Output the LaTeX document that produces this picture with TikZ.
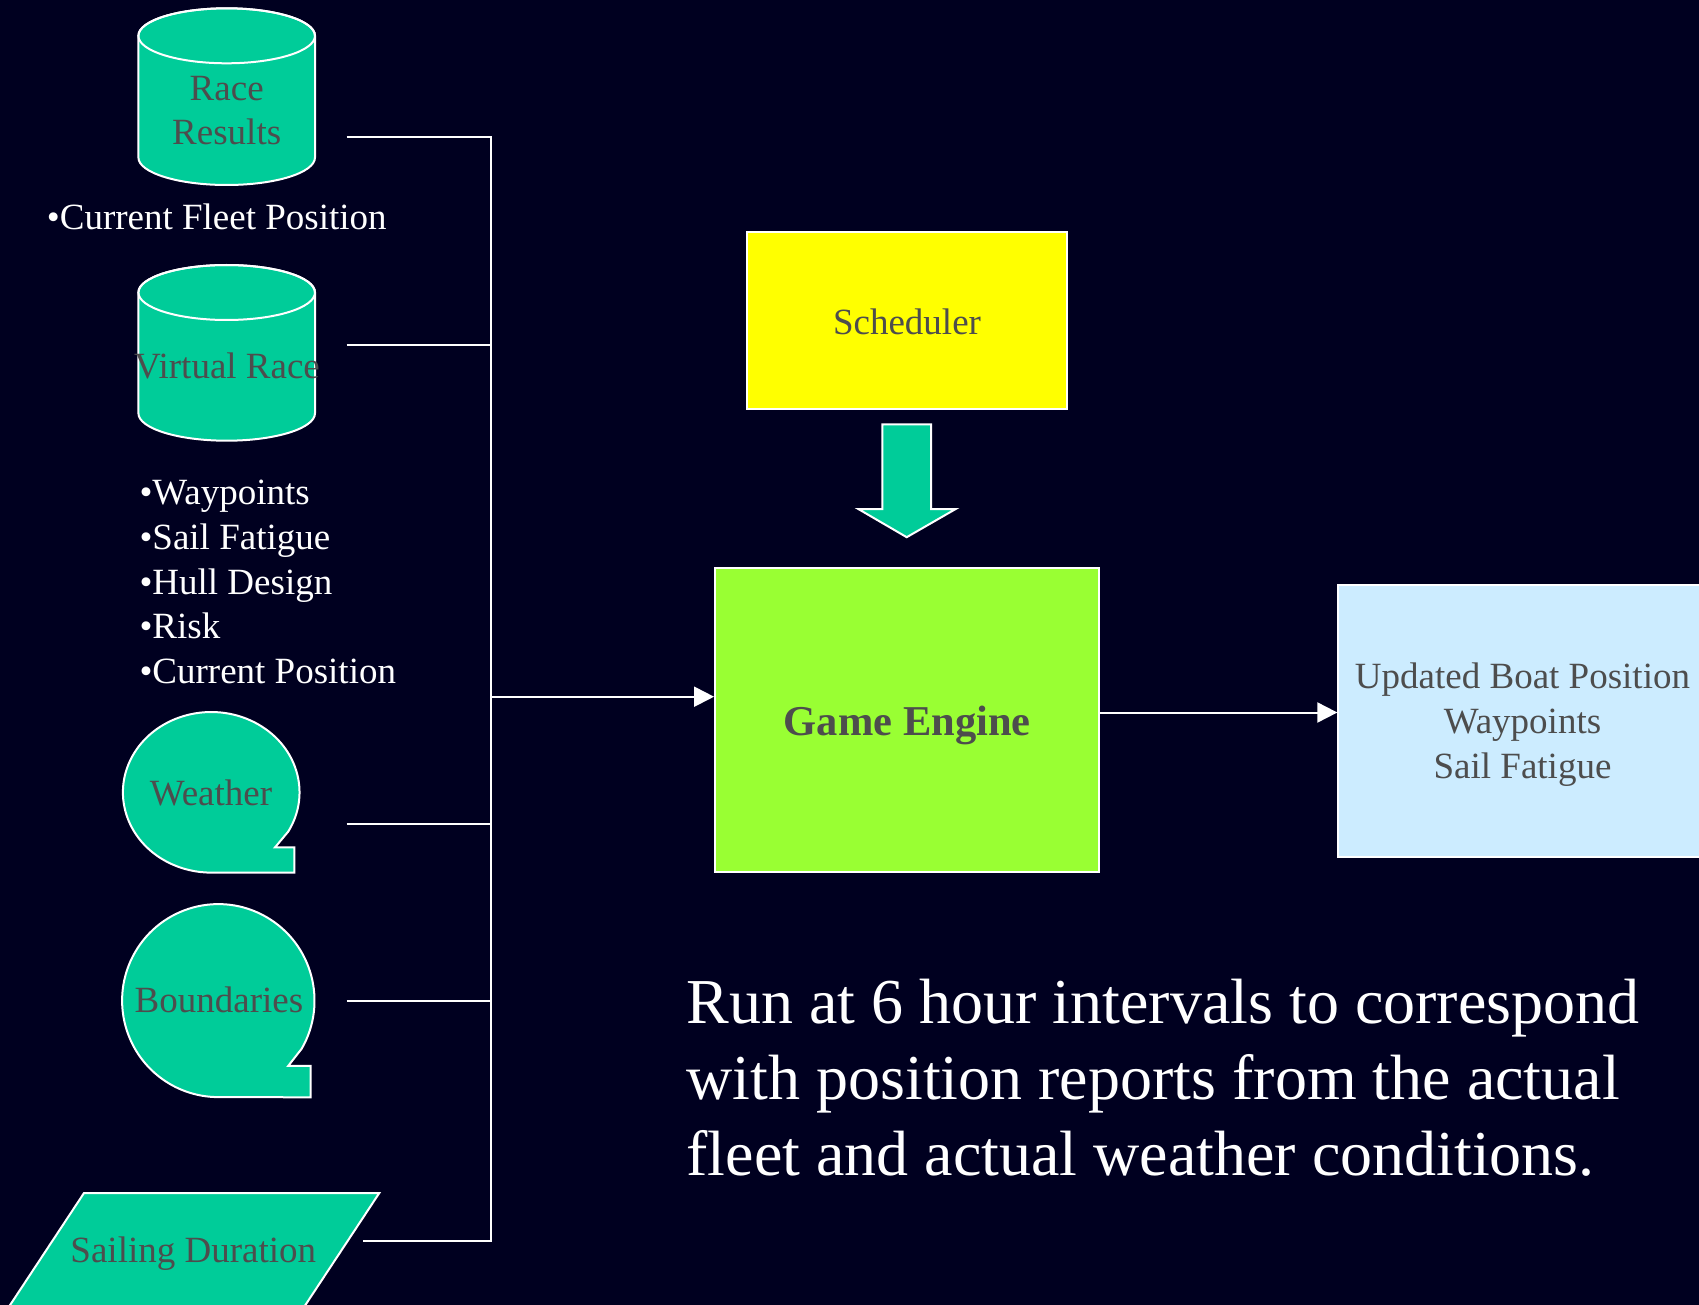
\documentclass[tikz,border=0pt]{standalone}
\usepackage{fontspec}
\setmainfont{Liberation Serif}
\usetikzlibrary{arrows.meta}
\definecolor{bgc}{RGB}{0,0,32}
\definecolor{tealc}{RGB}{0,204,153}
\definecolor{limec}{RGB}{153,255,51}
\definecolor{yelc}{RGB}{255,255,0}
\definecolor{skyc}{RGB}{204,236,255}
\definecolor{txtc}{RGB}{77,77,77}
\begin{document}
\begin{tikzpicture}[x=1pt,y=-1pt,
  shapeline/.style={draw=white,line width=2pt,fill=tealc},
  conn/.style={draw=white,line width=2pt},
  arr/.style={conn,-{Triangle[length=20pt,width=20pt]}},
  lbl/.style={text=txtc,font=\fontsize{37}{44.6}\selectfont,inner sep=0pt},
  wlbl/.style={text=white,font=\fontsize{37}{44.6}\selectfont,inner sep=0pt},
  boxnode/.style={draw=white,line width=2pt,rectangle,inner sep=0pt,text=txtc,font=\fontsize{37}{44.6}\selectfont}]
\useasboundingbox (0,0) rectangle (1699,1305);
\fill[bgc] (0,0) rectangle (1699,1305);
\begin{scope}
\clip (0,0) rectangle (1699,1305);

% Race Results cylinder
\path[shapeline] (138.4,35.8) -- (138.4,157.5)
  arc[start angle=180,end angle=0,x radius=88.3,y radius=27.5]
  -- (315,35.8)
  arc[start angle=0,end angle=-180,x radius=88.3,y radius=27.5] -- cycle;
\draw[conn] (226.7,35.8) ellipse[x radius=88.3,y radius=27.5];
\node[lbl,anchor=base,align=center] (rrtxt) at (226.7,145) {Race\\Results};

% Virtual Race cylinder
\path[shapeline] (138.4,292.5) -- (138.4,413.2)
  arc[start angle=180,end angle=0,x radius=88.3,y radius=27.5]
  -- (315,292.5)
  arc[start angle=0,end angle=-180,x radius=88.3,y radius=27.5] -- cycle;
\draw[conn] (226.7,292.5) ellipse[x radius=88.3,y radius=27.5];
\node[lbl,anchor=base] (vrtxt) at (227,378) {Virtual Race};

% bullet texts
\node[wlbl,anchor=base west] (cfp) at (46.7,230) {•Current Fleet Position};
\node[wlbl,anchor=base west,align=left] (blist) at (139.3,683.3)
  {•Waypoints\\•Sail Fatigue\\•Hull Design\\•Risk\\•Current Position};

% Weather tape shape
\path[shapeline] (288.3,831.5)
  arc[start angle=29.2,end angle=-270,x radius=88.3,y radius=80.3]
  -- (294.3,872.5) -- (294.3,847.4) -- (275,847.4) -- cycle;
\node[lbl,anchor=base] (wtxt) at (211,805.5) {Weather};

% Boundaries tape shape
\path[shapeline] (301.7,1048.7)
  arc[start angle=29.9,end angle=-270,x radius=96.2,y radius=96.5]
  -- (310.7,1097.3) -- (310.7,1065.8) -- (288.3,1065.8) -- cycle;
\node[lbl,anchor=base] (btxt) at (219,1012.8) {Boundaries};

% Sailing Duration parallelogram
\path[shapeline] (84,1193) -- (379.3,1193) -- (295.5,1320) -- (0.2,1320) -- cycle;
\node[lbl,anchor=base] (sdtxt) at (193.3,1262) {Sailing Duration};

% Scheduler
\node[boxnode,fill=yelc,minimum width=320.6pt,minimum height=176.6pt,
  text height=30pt,text depth=2pt] (sch) at (907,320.7) {Scheduler};
% block arrow
\path[shapeline] (882.3,424.4) -- (931,424.4) -- (931,509) -- (955.7,509)
  -- (906.7,537.2) -- (858.3,509) -- (882.3,509) -- cycle;

% Game Engine
\node[boxnode,fill=limec,minimum width=384.3pt,minimum height=304pt,
  text height=40pt,text depth=9pt,font=\fontsize{42.5}{50}\selectfont\bfseries] (ge) at (907.2,720.2) {Game Engine};

% Output box
\node[boxnode,fill=skyc,minimum width=371.7pt,minimum height=271.7pt] (upd) at (1524.2,720.85) {};
\node[lbl,anchor=base,align=center] (updtxt) at (1522.5,778)
  {Updated Boat Position\\Waypoints\\Sail Fatigue};

% connectors
\coordinate (busx) at (491,0);
\coordinate (rrout) at (346.7,136.7);
\coordinate (vrout) at (346.7,345);
\coordinate (weout) at (346.7,824.3);
\coordinate (bdout) at (346.7,1000.8);
\coordinate (sdout) at (362.7,1240.8);
\coordinate (bus) at (491,696.7);
\coordinate (outy) at (0,712.5);
\draw[conn] (rrout) -- (rrout -| busx) -- (sdout -| busx) -- (sdout);
\draw[conn] (vrout) -- (vrout -| busx);
\draw[conn] (weout) -- (weout -| busx);
\draw[conn] (bdout) -- (bdout -| busx);
\draw[arr] (bus) -- (bus -| ge.west);
\draw[arr] (ge.east |- outy) -- (upd.west |- outy);

% note
\node[text=white,font=\fontsize{64}{76}\selectfont,inner sep=0pt,anchor=base west,align=left] (note) at (686.4,1175)
  {Run at 6 hour intervals to correspond\\with position reports from the actual\\fleet and actual weather conditions.};
\end{scope}
\end{tikzpicture}
\end{document}
